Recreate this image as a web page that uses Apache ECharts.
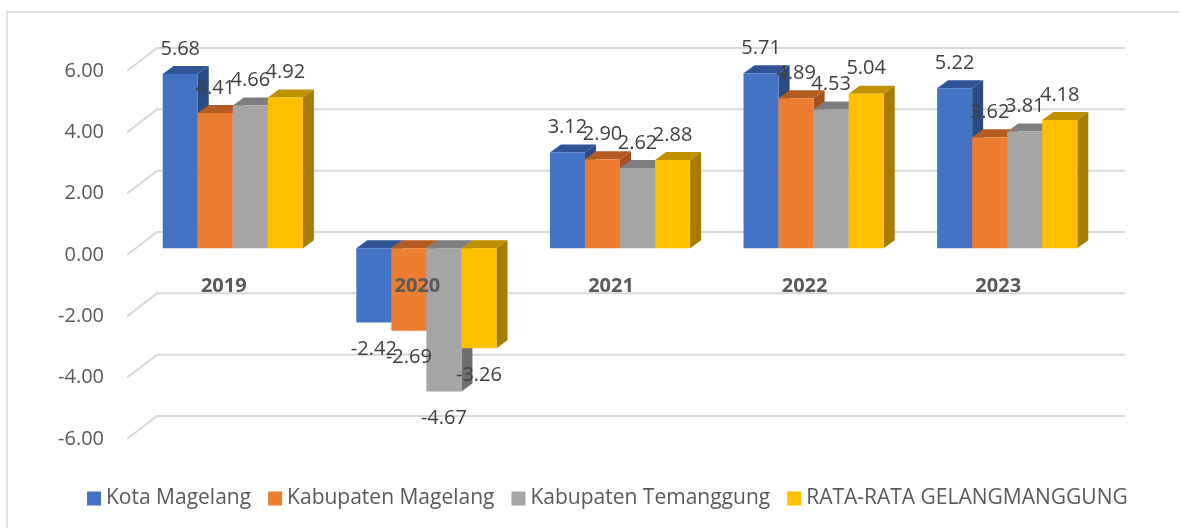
<!DOCTYPE html>
<html>
<head>
<meta charset="utf-8">
<script src="https://cdn.jsdelivr.net/npm/echarts@6/dist/echarts.min.js"></script>
<style>
html,body{margin:0;padding:0;background:#fff;}
#chart{width:1179px;height:528px;}
</style>
</head>
<body>
<div id="chart"></div>
<script>
// ---- data ----
var categories = ['2019', '2020', '2021', '2022', '2023'];
var seriesNames = ['Kota Magelang', 'Kabupaten Magelang', 'Kabupaten Temanggung', 'RATA-RATA GELANGMANGGUNG'];
var kotaMagelang = [5.68, -2.42, 3.12, 5.71, 5.22];
var kabMagelang = [4.41, -2.69, 2.90, 4.89, 3.62];
var kabTemanggung = [4.66, -4.67, 2.62, 4.53, 3.81];
var rataRata = [4.92, -3.26, 2.88, 5.04, 4.18];
var yMin = -6, yMax = 6, yInterval = 2;
var yTicks = [-6, -4, -2, 0, 2, 4, 6];

// ---- style ----
var FONT = 'Open Sans';
var frontColors = ['#4472C4', '#ED7D31', '#A5A5A5', '#FFC000'];
var topColors = ['#2F5597', '#B45B22', '#7E7E7E', '#BF9000'];
var sideColors = ['#2A4B86', '#A3521F', '#6F6F6F', '#A67D00'];
var DX = 11, DY = 8; // bar depth offsets
var WALL_DX = 30, WALL_DY = 23; // floor diagonal
var PLANE_H = 368;

var allValues = [kotaMagelang, kabMagelang, kabTemanggung, rataRata];

function barSeries(idx) {
  var data = allValues[idx].map(function (v, i) { return [i, v]; });
  return {
    type: 'custom',
    name: seriesNames[idx],
    xAxisIndex: 1, yAxisIndex: 1,
    itemStyle: { color: frontColors[idx] },
    encode: { x: 0, y: 1 },
    data: data,
    renderItem: function (params, api) {
      var cat = api.value(0), val = api.value(1);
      var base = api.coord([cat, 0]);
      var tip = api.coord([cat, val]);
      var band = api.size([1, 0])[0];
      var barW = band * 0.181;
      var x0 = base[0] - 2 * barW + idx * barW;
      var yTop = Math.min(base[1], tip[1]);
      var yBot = Math.max(base[1], tip[1]);
      var labelY = val >= 0 ? yTop - 25 : yBot + 27;
      return {
        type: 'group',
        children: [
          { type: 'polygon', shape: { points: [[x0 + barW, yTop], [x0 + barW + DX, yTop - DY], [x0 + barW + DX, yBot - DY], [x0 + barW, yBot]] }, style: { fill: sideColors[idx] } },
          { type: 'polygon', shape: { points: [[x0, yTop], [x0 + barW, yTop], [x0 + barW + DX, yTop - DY], [x0 + DX, yTop - DY]] }, style: { fill: topColors[idx] } },
          { type: 'rect', shape: { x: x0, y: yTop, width: barW, height: yBot - yTop }, style: { fill: frontColors[idx] } },
          { type: 'text', z2: 100, style: { text: val.toFixed(2), x: x0 + barW / 2, y: labelY, align: 'center', verticalAlign: 'middle', fill: '#404040', font: '20px "' + FONT + '"' } }
        ]
      };
    }
  };
}

var chart = echarts.init(document.getElementById('chart'));
var option = {
  animation: false,
  backgroundColor: '#fff',
  graphic: [{ type: 'rect', shape: { x: 7, y: 12, width: 1300, height: 700 }, style: { fill: 'none', stroke: '#d9d9d9', lineWidth: 1.5 }, silent: true }],
  grid: [
    { left: 157, top: 48, width: 968, height: PLANE_H },   // back wall
    { left: 136, top: 64.3, width: 968, height: PLANE_H }, // bar plane
    { left: 127, top: 71, width: 968, height: PLANE_H }    // front plane (labels)
  ],
  xAxis: [
    { gridIndex: 0, type: 'value', min: 0, max: 1, show: false },
    { gridIndex: 1, type: 'category', data: categories, show: false },
    { gridIndex: 2, type: 'category', data: categories, z: 10, position: 'bottom',
      offset: -PLANE_H * (0 - yMin) / (yMax - yMin),
      axisLine: { show: false, onZero: false }, axisTick: { show: false },
      axisLabel: { margin: 21, fontFamily: FONT, fontSize: 20, fontWeight: 'bold', color: '#595959' } }
  ],
  yAxis: [
    { gridIndex: 0, type: 'value', min: yMin, max: yMax, interval: yInterval, show: false },
    { gridIndex: 1, type: 'value', min: yMin, max: yMax, interval: yInterval, show: false },
    { gridIndex: 2, type: 'value', min: yMin, max: yMax, interval: yInterval,
      axisLine: { show: false }, axisTick: { show: false }, splitLine: { show: false },
      axisLabel: { margin: 23, fontFamily: FONT, fontSize: 20, color: '#595959', formatter: function (v) { return v.toFixed(2); } } }
  ],
  legend: {
    data: seriesNames,
    left: 82, top: 483,
    icon: 'rect', itemWidth: 14, itemHeight: 14, itemGap: 17,
    textStyle: { fontFamily: FONT, fontSize: 21, color: '#595959' }
  },
  series: [
    {
      type: 'custom', name: 'grid', xAxisIndex: 0, yAxisIndex: 0, silent: true, z: 1,
      data: yTicks.map(function (v) { return [v]; }),
      renderItem: function (params, api) {
        var v = api.value(0);
        var p0 = api.coord([0, v]);
        var p1 = api.coord([1, v]);
        return { type: 'polyline', shape: { points: [[p0[0] - WALL_DX, p0[1] + WALL_DY], p0, p1] }, style: { stroke: '#d9d9d9', lineWidth: 2, fill: 'none' } };
      }
    },
    barSeries(0), barSeries(1), barSeries(2), barSeries(3)
  ]
};
chart.setOption(option);
</script>
</body>
</html>
